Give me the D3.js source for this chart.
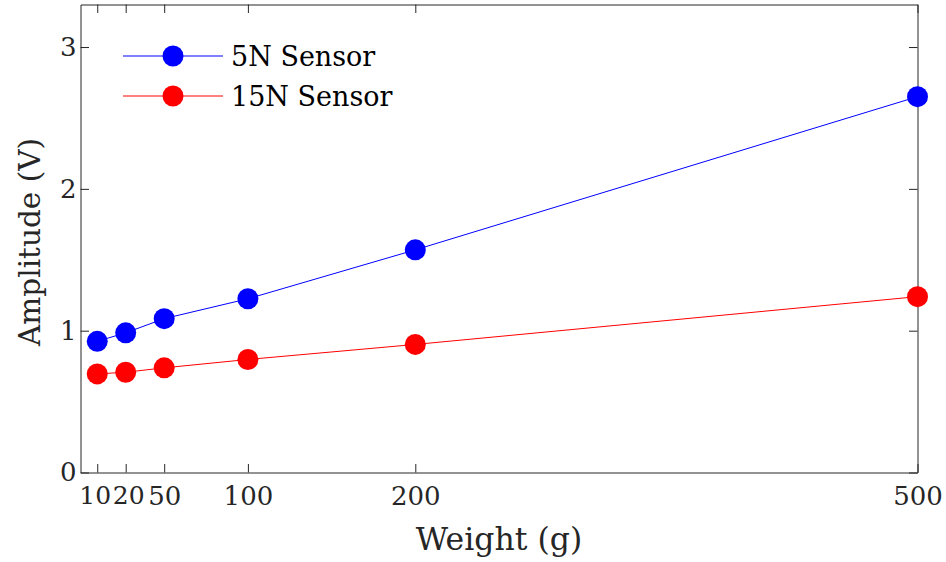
<html>
<head>
<script src="https://cdnjs.cloudflare.com/ajax/libs/d3/7.8.5/d3.min.js"></script>
<style>
  body { margin: 0; background: #fff; }
</style>
</head>
<body>
<div id="container"></div>
<script>
// data
var weights = [10, 27, 50, 100, 200, 500];      // x positions of the points
var tickLabels = ["10", "20", "50", "100", "200", "500"];
var sensor5N = [0.925, 0.985, 1.085, 1.225, 1.57, 2.65];
var sensor15N = [0.695, 0.707, 0.738, 0.797, 0.903, 1.24];
var yTicks = [0, 1, 2, 3];
var seriesNames = ["5N Sensor", "15N Sensor"];
var seriesColors = ["#0000ff", "#ff0000"];

var w = 946, h = 562;
var pLeft = 80.5, pRight = 917.5, pTop = 4.5, pBottom = 472.5;
var tickLen = 8.5;
var serif = "DejaVu Serif, serif";

var svg = d3.select("#container").append("svg")
    .attr("width", w).attr("height", h);

var x = d3.scaleLinear().domain([0, 500]).range([pLeft, pRight]);
var y = d3.scaleLinear().domain([0, 3.3]).range([pBottom, pTop]);

// axes (MATLAB style: ticks inward, box all round)
var xAxis = d3.axisBottom(x).tickValues(weights)
    .tickFormat(function(d, i) { return tickLabels[i]; })
    .tickSizeInner(-tickLen).tickSizeOuter(0).tickPadding(14);
var yAxis = d3.axisLeft(y).tickValues(yTicks).tickFormat(d3.format("d"))
    .tickSizeInner(-tickLen).tickSizeOuter(0).tickPadding(4);

var gx = svg.append("g").attr("transform", "translate(0," + pBottom + ")").call(xAxis);
var gy = svg.append("g").attr("transform", "translate(" + pLeft + ",0)").call(yAxis);
var gxt = svg.append("g").attr("transform", "translate(0," + pTop + ")")
    .call(d3.axisTop(x).tickValues(weights).tickFormat("").tickSizeInner(-tickLen).tickSizeOuter(0));
var gyr = svg.append("g").attr("transform", "translate(" + pRight + ",0)")
    .call(d3.axisRight(y).tickValues(yTicks).tickFormat("").tickSizeInner(-tickLen).tickSizeOuter(0));

[gx, gy, gxt, gyr].forEach(function(g) {
    g.select(".domain").attr("stroke", "#262626").attr("stroke-width", 1);
    g.selectAll(".tick line").attr("stroke", "#262626").attr("stroke-width", 1);
    g.selectAll(".tick text")
        .attr("font-family", serif)
        .attr("font-size", 26)
        .attr("fill", "#262626");
});
// the two first labels sit close together: nudge them apart a little
gx.selectAll(".tick text")
    .attr("font-size", function(d, i) { return i < 2 ? 25 : 26; })
    .attr("dx", function(d, i) { return i === 0 ? -2.5 : (i === 1 ? 2.5 : 0); });

// axis titles
svg.append("text")
    .attr("x", (pLeft + pRight) / 2).attr("y", 550)
    .attr("text-anchor", "middle")
    .attr("font-family", serif).attr("font-size", 31.5).attr("fill", "#262626")
    .text("Weight (g)");
svg.append("text")
    .attr("transform", "translate(40,242) rotate(-90)")
    .attr("text-anchor", "middle")
    .attr("font-family", serif).attr("font-size", 29.5).attr("fill", "#262626")
    .text("Amplitude (V)");

// series
var series = [sensor5N, sensor15N];
var line = d3.line()
    .x(function(d, i) { return x(weights[i]); })
    .y(function(d) { return y(d); });

series.forEach(function(s, k) {
    svg.append("path")
        .datum(s)
        .attr("fill", "none")
        .attr("stroke", seriesColors[k])
        .attr("stroke-width", 1)
        .attr("d", line);
    svg.selectAll("circle.s" + k)
        .data(s)
        .enter()
        .append("circle")
        .attr("class", "s" + k)
        .attr("cx", function(d, i) { return x(weights[i]); })
        .attr("cy", function(d) { return y(d); })
        .attr("r", 10.5)
        .attr("fill", seriesColors[k]);
});

// legend
var legend = svg.append("g");
seriesNames.forEach(function(name, k) {
    var ly = 56 + k * 40;
    legend.append("line")
        .attr("x1", 123).attr("x2", 223)
        .attr("y1", ly).attr("y2", ly)
        .attr("stroke", seriesColors[k]).attr("stroke-width", 1);
    legend.append("circle")
        .attr("cx", 173).attr("cy", ly).attr("r", 10.5)
        .attr("fill", seriesColors[k]);
    legend.append("text")
        .attr("x", 231).attr("y", ly + 10)
        .attr("font-family", serif).attr("font-size", 27)
        .attr("fill", "#000")
        .text(name);
});
</script>
</body>
</html>
